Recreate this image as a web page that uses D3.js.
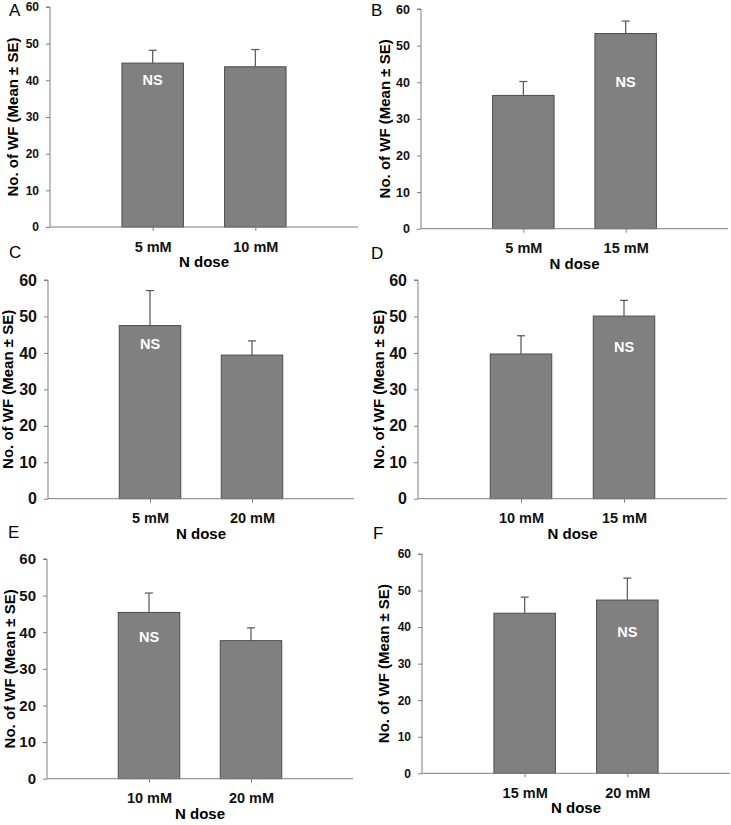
<!DOCTYPE html>
<html>
<head>
<meta charset="utf-8">
<script src="https://cdn.jsdelivr.net/npm/d3@7"></script>
<style>
  body { margin: 0; background: #fff; }
  svg { display: block; font-family: Arial, "Liberation Sans", sans-serif; }
  .domain, .tick line { stroke: #7f7f7f; }
  .tick text { fill: #111; font-weight: bold; }
</style>
</head>
<body>
<div id="chart"></div>
<script>
// values
const panelLetters = ['A', 'B', 'C', 'D', 'E', 'F'];
const doses = [
  ['5 mM', '10 mM'],
  ['5 mM', '15 mM'],
  ['5 mM', '20 mM'],
  ['10 mM', '15 mM'],
  ['10 mM', '20 mM'],
  ['15 mM', '20 mM']
];
const means = [
  [44.7, 43.7],
  [36.4, 53.3],
  [47.5, 39.4],
  [39.7, 50.1],
  [45.4, 37.7],
  [43.8, 47.4]
];
const se = [
  [3.5, 4.7],
  [3.8, 3.4],
  [9.6, 3.9],
  [5.0, 4.3],
  [5.3, 3.5],
  [4.4, 6.0]
];
const nsBar = [0, 1, 0, 1, 0, 1];
const nsValue = [38.6, 38.8, 41.0, 40.3, 37.3, 37.4];
const yTicks = [0, 10, 20, 30, 40, 50, 60];
const yMax = 60;

const width = 731;
const height = 825;

// where each panel's plot area sits on the page
const frames = [
  {x0: 50,  x1: 358, top: 7,   bottom: 227,   tickFont: 12,   titleX: 18,  letter: [9, 16]},
  {x0: 421, x1: 728, top: 9,   bottom: 228.7, tickFont: 12.5, titleX: 390, letter: [371, 16]},
  {x0: 48,  x1: 354, top: 280, bottom: 498.7, tickFont: 16,   titleX: 13,  letter: [9, 258]},
  {x0: 418, x1: 727, top: 280, bottom: 498.7, tickFont: 16,   titleX: 384, letter: [371, 259]},
  {x0: 47,  x1: 353, top: 559, bottom: 778.7, tickFont: 15,   titleX: 15,  letter: [8, 538]},
  {x0: 422, x1: 730, top: 554, bottom: 773.3, tickFont: 12,   titleX: 389, letter: [373, 539]}
];

const barWidth = 61.5;
const capHalf = 4;

let svg = d3.select('#chart').append('svg')
  .attr('width', width)
  .attr('height', height)

panelLetters.forEach((letter, p) => {
  let f = frames[p];
  let cats = doses[p];

  let x = d3.scalePoint()
    .domain(cats)
    .range([f.x0, f.x1])
    .padding(1)

  let y = d3.scaleLinear()
    .domain([0, yMax])
    .range([f.bottom, f.top])

  let g = svg.append('g').classed('panel', true)

  // bars
  g.selectAll('rect.bar').data(cats).enter().append('rect')
    .classed('bar', true)
    .attr('x', d => x(d) - barWidth / 2)
    .attr('width', barWidth)
    .attr('y', (d, i) => y(means[p][i]))
    .attr('height', (d, i) => y(0) - y(means[p][i]))
    .attr('fill', '#808080')
    .attr('stroke', '#4d4d4d')
    .attr('stroke-width', 1)

  // upper error bars
  g.selectAll('line.err').data(cats).enter().append('line')
    .classed('err', true)
    .attr('x1', d => x(d))
    .attr('x2', d => x(d))
    .attr('y1', (d, i) => y(means[p][i]))
    .attr('y2', (d, i) => y(means[p][i] + se[p][i]))
    .attr('stroke', '#555')
    .attr('stroke-width', 1.2)

  g.selectAll('line.cap').data(cats).enter().append('line')
    .classed('cap', true)
    .attr('x1', d => x(d) - capHalf)
    .attr('x2', d => x(d) + capHalf)
    .attr('y1', (d, i) => y(means[p][i] + se[p][i]))
    .attr('y2', (d, i) => y(means[p][i] + se[p][i]))
    .attr('stroke', '#555')
    .attr('stroke-width', 1.2)

  // axes
  let yAxis = d3.axisLeft(y).tickValues(yTicks).tickSize(4).tickPadding(7).tickFormat(d3.format('d'));
  let yg = g.append('g')
    .attr('transform', `translate(${f.x0}, 0)`)
    .call(yAxis)
  yg.select('.domain').attr('d', `M-4,${f.top}H0V${f.bottom}`)
  yg.selectAll('.tick text').style('font-size', f.tickFont + 'px')

  let xAxis = d3.axisBottom(x).tickSize(4).tickPadding(10);
  let xg = g.append('g')
    .attr('transform', `translate(0, ${f.bottom})`)
    .call(xAxis)
  xg.select('.domain').attr('d', `M${f.x0},0H${f.x1}`)
  xg.selectAll('.tick text')
    .style('font-size', '14.5px')
    .attr('dy', null)
    .attr('y', 24.5)

  // NS marker
  g.append('text')
    .attr('x', x(cats[nsBar[p]]))
    .attr('y', y(nsValue[p]))
    .attr('text-anchor', 'middle')
    .attr('fill', '#fff')
    .style('font-size', '14.5px')
    .style('font-weight', 'bold')
    .text('NS')

  // axis titles
  g.append('text')
    .attr('x', (f.x0 + f.x1) / 2)
    .attr('y', f.bottom + 40)
    .attr('text-anchor', 'middle')
    .style('font-size', '15px')
    .style('font-weight', 'bold')
    .text('N dose')

  g.append('text')
    .attr('transform', `translate(${f.titleX}, ${(f.top + f.bottom) / 2}) rotate(-90)`)
    .attr('text-anchor', 'middle')
    .style('font-size', '15px')
    .style('font-weight', 'bold')
    .text('No. of WF (Mean ± SE)')

  // panel letter
  g.append('text')
    .attr('x', f.letter[0])
    .attr('y', f.letter[1])
    .style('font-size', '17px')
    .text(letter)
})
</script>
</body>
</html>
